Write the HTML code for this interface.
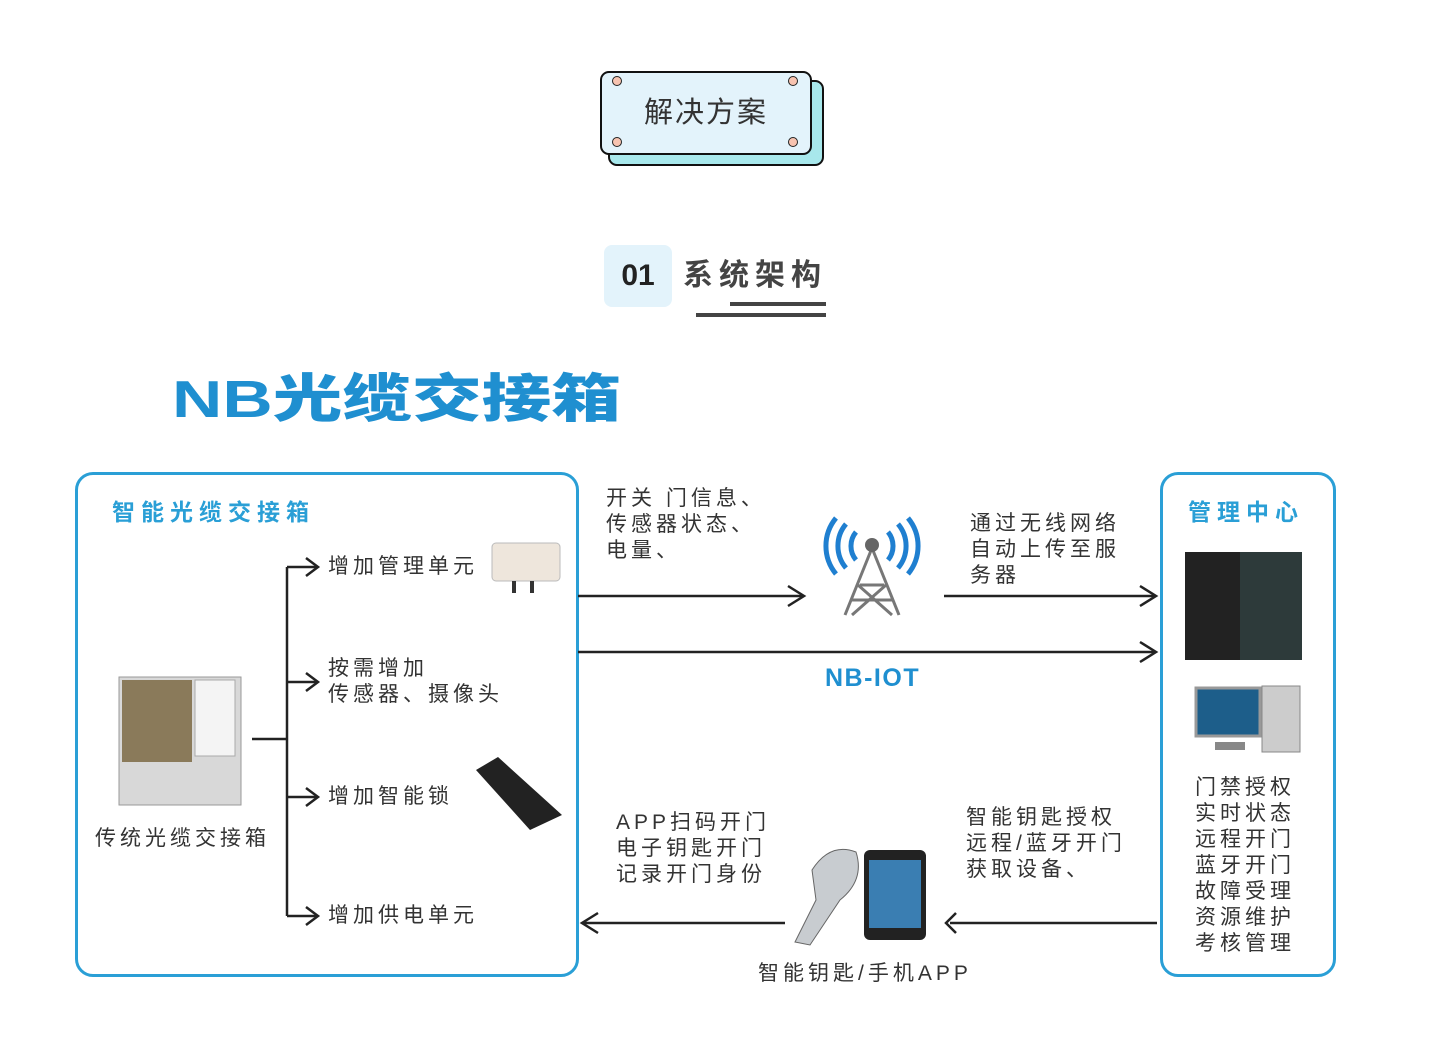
<!DOCTYPE html>
<html><head><meta charset="utf-8"><style>
body{margin:0;width:1432px;height:1046px;background:#fff;position:relative;overflow:hidden;font-family:"Liberation Sans","Noto Sans CJK SC",sans-serif}
.a{position:absolute}
.t{position:absolute;color:#333;font-size:21px;line-height:26px;white-space:nowrap;letter-spacing:4px}
</style></head><body>
<div class="a" style="left:608px;top:80px;width:212px;height:82px;background:#a8e8ec;border:2px solid #111;border-radius:9px"></div>
<div class="a" style="left:600px;top:71px;width:208px;height:80px;background:#e3f3fb;border:2px solid #111;border-radius:9px"></div>
<div class="a" style="left:612px;top:76px;width:8px;height:8px;border-radius:50%;background:#f7c3b0;border:1.5px solid #222"></div>
<div class="a" style="left:788px;top:76px;width:8px;height:8px;border-radius:50%;background:#f7c3b0;border:1.5px solid #222"></div>
<div class="a" style="left:612px;top:137px;width:8px;height:8px;border-radius:50%;background:#f7c3b0;border:1.5px solid #222"></div>
<div class="a" style="left:788px;top:137px;width:8px;height:8px;border-radius:50%;background:#f7c3b0;border:1.5px solid #222"></div>
<div class="t" style="left:600px;top:93px;width:212px;text-align:center;font-size:29px;line-height:40px;letter-spacing:2px;color:#333">解决方案</div>

<div class="a" style="left:604px;top:245px;width:68px;height:62px;background:#e3f3fb;border-radius:8px"></div>
<div class="t" style="left:604px;top:256px;width:68px;text-align:center;font-size:30px;line-height:40px;font-weight:bold;color:#222;letter-spacing:0">01</div>
<div class="t" style="left:683px;top:256px;font-size:30px;line-height:40px;letter-spacing:6px;color:#444;font-weight:bold">系统架构</div>
<div class="a" style="left:730px;top:302px;width:96px;height:4px;background:#444"></div>
<div class="a" style="left:696px;top:313px;width:130px;height:4px;background:#444"></div>

<div class="t" style="left:172px;top:368px;font-size:52px;line-height:64px;font-weight:900;color:#1f8fd0;letter-spacing:0;transform:scaleX(1.34);transform-origin:0 0">NB光缆交接箱</div>

<div class="a" style="left:75px;top:472px;width:498px;height:499px;border:3px solid #2a9fd6;border-radius:18px"></div>
<div class="a" style="left:1160px;top:472px;width:170px;height:499px;border:3px solid #2a9fd6;border-radius:18px"></div>
<div class="t" style="left:112px;top:497px;font-size:23px;line-height:30px;font-weight:bold;color:#2a9fd6;letter-spacing:6px">智能光缆交接箱</div>
<div class="t" style="left:1188px;top:497px;font-size:23px;line-height:30px;font-weight:bold;color:#2a9fd6;letter-spacing:6px">管理中心</div>

<svg class="a" style="left:0;top:0" width="1432" height="1046">
<g stroke="#222" stroke-width="2.5" fill="none">
<line x1="252" y1="739" x2="287" y2="739"/>
<line x1="287" y1="567" x2="287" y2="916"/>
<line x1="287" y1="567" x2="318" y2="567"/><polyline points="306,558 318,567 306,576"/>
<line x1="287" y1="682" x2="318" y2="682"/><polyline points="306,673 318,682 306,691"/>
<line x1="287" y1="797" x2="318" y2="797"/><polyline points="306,788 318,797 306,806"/>
<line x1="287" y1="916" x2="318" y2="916"/><polyline points="306,907 318,916 306,925"/>
<line x1="578" y1="596" x2="804" y2="596"/><polyline points="788,586 804,596 788,606"/>
<line x1="944" y1="596" x2="1156" y2="596"/><polyline points="1140,586 1156,596 1140,606"/>
<line x1="578" y1="652" x2="1156" y2="652"/><polyline points="1140,642 1156,652 1140,662"/>
<line x1="950" y1="923" x2="1157" y2="923"/><polyline points="956,913 946,923 956,933"/>
<line x1="582" y1="923" x2="785" y2="923"/><polyline points="598,913 582,923 598,933"/>
</g>
<g stroke="#777" stroke-width="3" fill="none">
<line x1="872" y1="548" x2="845" y2="615"/><line x1="872" y1="548" x2="899" y2="615"/>
<line x1="860" y1="585" x2="884" y2="585"/><line x1="852" y1="600" x2="892" y2="600"/>
<line x1="858" y1="585" x2="892" y2="615"/><line x1="886" y1="585" x2="852" y2="615"/>
</g>
<circle cx="872" cy="545" r="7" fill="#666"/>
<g stroke="#1f7fd0" stroke-width="5" fill="none">
<path d="M856,532 a22,22 0 0 0 0,28"/><path d="M846,524 a34,34 0 0 0 0,44"/><path d="M836,518 a44,44 0 0 0 0,56"/>
<path d="M888,532 a22,22 0 0 1 0,28"/><path d="M898,524 a34,34 0 0 1 0,44"/><path d="M908,518 a44,44 0 0 1 0,56"/>
</g>
<rect x="492" y="543" width="68" height="38" rx="4" fill="#eee6dc" stroke="#bbb"/>
<rect x="512" y="581" width="4" height="12" fill="#333"/><rect x="530" y="581" width="4" height="12" fill="#333"/>
<rect x="119" y="677" width="122" height="128" fill="#d8d8d8" stroke="#999"/>
<rect x="122" y="680" width="70" height="82" fill="#8a7a5a"/>
<rect x="195" y="680" width="40" height="76" fill="#f4f4f4" stroke="#aaa"/>
<path d="M476,770 L498,757 L562,815 L530,830 Z" fill="#222"/>
<rect x="1185" y="552" width="62" height="108" fill="#222"/><rect x="1240" y="552" width="62" height="108" fill="#2d3a3a"/>
<rect x="1196" y="688" width="64" height="48" fill="#1d5e8a" stroke="#999" stroke-width="3"/>
<rect x="1262" y="686" width="38" height="66" fill="#ccc" stroke="#888"/>
<rect x="1215" y="742" width="30" height="8" fill="#888"/>
<path d="M812,870 Q830,842 856,852 Q865,880 840,900 L810,945 L795,942 L816,900 Z" fill="#c8ccd0" stroke="#666"/>
<rect x="864" y="850" width="62" height="90" rx="6" fill="#222"/><rect x="869" y="860" width="52" height="68" fill="#3a7eb2"/>
</svg>

<div class="t" style="left:328px;top:554px">增加管理单元</div>
<div class="t" style="left:328px;top:656px">按需增加<br>传感器、摄像头</div>
<div class="t" style="left:328px;top:784px">增加智能锁</div>
<div class="t" style="left:328px;top:903px">增加供电单元</div>
<div class="t" style="left:95px;top:826px">传统光缆交接箱</div>
<div class="t" style="left:606px;top:486px">开关 门信息、<br>传感器状态、<br>电量、</div>
<div class="t" style="left:970px;top:511px">通过无线网络<br>自动上传至服<br>务器</div>
<div class="t" style="left:825px;top:663px;font-size:25px;line-height:30px;font-weight:bold;color:#1f8fd0;letter-spacing:1.5px">NB-IOT</div>
<div class="t" style="left:616px;top:810px">APP扫码开门<br>电子钥匙开门<br>记录开门身份</div>
<div class="t" style="left:966px;top:805px">智能钥匙授权<br>远程/蓝牙开门<br>获取设备、</div>
<div class="t" style="left:758px;top:961px">智能钥匙/手机APP</div>
<div class="t" style="left:1195px;top:775px">门禁授权<br>实时状态<br>远程开门<br>蓝牙开门<br>故障受理<br>资源维护<br>考核管理</div>
</body></html>
